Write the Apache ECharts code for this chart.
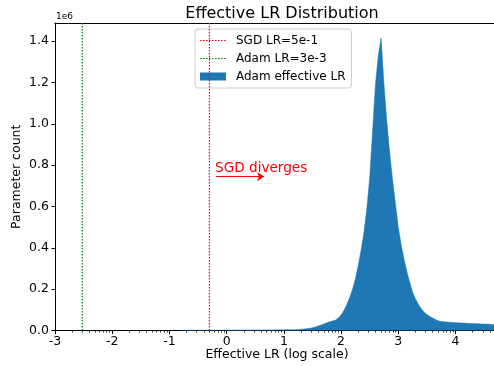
<!DOCTYPE html>
<html>
<head>
<meta charset="utf-8">
<script src="https://cdn.jsdelivr.net/npm/echarts@6/dist/echarts.min.js"></script>
<style>
  html, body { margin: 0; padding: 0; background: #fff; }
  #chart { width: 494px; height: 366px; }
</style>
</head>
<body>
<div id="chart"></div>
<script>
// histogram of log10(effective LR), bins of 0.05 starting at center -0.80
const binStart = -0.80;
const binWidth = 0.05;
const counts = [
  1000, 1000, 1000, 1000, 1200, 1200, 1200, 1300, 1300, 1400,
  1400, 1500, 1500, 1600, 1600, 1700, 1800, 1800, 1900, 2000,
  2000, 2100, 2200, 2300, 2300, 2400, 2500, 2600, 2700, 2800,
  2900, 3000, 3000, 3100, 3200, 3300, 3400, 3500, 3600, 3800,
  4000, 5000, 6000, 7000, 9000, 11000, 13000, 17000, 22000, 27000,
  32000, 37000, 42000, 46000, 50000, 60000, 75000, 97000, 126000, 160000,
  200000, 250000, 315000, 390000, 475000, 590000, 740000, 960000, 1190000, 1330000,
  1416000, 1190000, 1010000, 860000, 730000, 615000, 500000, 415000, 345000, 285000,
  232000, 186000, 153000, 127000, 106000, 90000, 78000, 68000, 60000, 53000,
  47000, 43000, 42000, 41000, 40000, 39000, 38000, 37000, 36000, 36000,
  35000, 34000, 34000, 33000, 33000, 32000, 31000, 31000, 30000, 29000,
  28000, 28000
];
const sgdLr = Math.log10(5e-1);
const adamLr = Math.log10(3e-3);
const xTicks = [-3, -2, -1, 0, 1, 2, 3, 4];
const yTicks = [0, 200000, 400000, 600000, 800000, 1000000, 1200000, 1400000];
const arrowFrom = [-0.185, 745000];
const arrowTo = [0.655, 745000];

const xMin = -3, xMax = 4.76, yMax = 1488000;
const font = 'DejaVu Sans';
const blue = '#1f77b4';

// minor ticks at log spacing inside each unit
const minorTicks = [];
for (let n = -3; n < 5; n++) {
  for (let k = 2; k <= 9; k++) {
    const v = n + Math.log10(k);
    if (v < xMax) minorTicks.push(v);
  }
}

// dotted-line legend icon (26x8 box)
let dotIcon = 'path://M0,0L0,0Z M26,8L26,8Z';
for (let x = 0; x < 26; x += 3) dotIcon += ` M${x},3.4h1.6v1.2h-1.6Z`;

const histData = counts.map((c, i) => [binStart + i * binWidth, c]);

const chart = echarts.init(document.getElementById('chart'));

const option = {
  animation: false,
  textStyle: { fontFamily: font },
  title: {
    text: 'Effective LR Distribution',
    left: 277, top: 1, textAlign: 'center',
    textStyle: { fontFamily: font, fontSize: 16, fontWeight: 'normal', color: '#000' }
  },
  grid: { left: 55, top: 23, right: -5, bottom: 35.5, outerBoundsMode: 'none' },
  legend: {
    data: [
      { name: 'SGD LR=5e-1', icon: dotIcon },
      { name: 'Adam LR=3e-3', icon: dotIcon },
      { name: 'Adam effective LR', icon: 'rect' }
    ],
    orient: 'vertical',
    left: 195, top: 29,
    itemWidth: 26, itemHeight: 8, itemGap: 3,
    symbolKeepAspect: false,
    padding: [4, 6, 4, 5],
    selectedMode: false,
    backgroundColor: 'rgba(255,255,255,0.8)',
    borderColor: '#cccccc', borderWidth: 1, borderRadius: 3,
    textStyle: { fontFamily: font, fontSize: 12, lineHeight: 15, color: '#000', padding: [0, 0, 0, 5] }
  },
  graphic: [
    { type: 'text', left: 56, top: 12, style: { text: '1e6', font: '9px "DejaVu Sans"', fill: '#000' } }
  ],
  xAxis: [
    {
      type: 'value', min: xMin, max: xMax, position: 'bottom',
      name: 'Effective LR (log scale)', nameLocation: 'middle', nameGap: 18,
      nameMoveOverlap: false,
      nameTextStyle: { fontFamily: font, fontSize: 12.5, color: '#000' },
      axisLine: { onZero: false, lineStyle: { color: '#000', width: 1 } },
      axisTick: { customValues: xTicks, length: 3.5, lineStyle: { color: '#000' } },
      axisLabel: { customValues: xTicks, fontFamily: font, fontSize: 12.5, color: '#000', margin: 5 },
      splitLine: { show: false }
    },
    {
      type: 'value', min: xMin, max: xMax, position: 'bottom',
      axisLine: { show: false, onZero: false },
      axisTick: { customValues: minorTicks, length: 2, lineStyle: { color: '#000', width: 0.8 } },
      axisLabel: { show: false },
      splitLine: { show: false }
    },
    {
      type: 'value', min: xMin, max: xMax, position: 'top',
      axisLine: { onZero: false, lineStyle: { color: '#000', width: 1 } },
      axisTick: { show: false }, axisLabel: { show: false }, splitLine: { show: false }
    }
  ],
  yAxis: {
    type: 'value', min: 0, max: yMax, position: 'left',
    name: 'Parameter count', nameLocation: 'middle', nameGap: 32,
    nameMoveOverlap: false,
    nameTextStyle: { fontFamily: font, fontSize: 12.5, color: '#000' },
    axisLine: { show: true, onZero: false, lineStyle: { color: '#000', width: 1 } },
    axisTick: { show: true, customValues: yTicks, length: 3.5, lineStyle: { color: '#000' } },
    axisLabel: {
      customValues: yTicks, fontFamily: font, fontSize: 12.5, color: '#000', margin: 6,
      formatter: v => (v / 1e6).toFixed(1)
    },
    splitLine: { show: false }
  },
  series: [
    {
      name: 'Adam effective LR',
      type: 'line',
      xAxisIndex: 0,
      data: histData,
      symbol: 'none',
      itemStyle: { color: blue },
      lineStyle: { color: blue, width: 0.5 },
      areaStyle: { color: blue, opacity: 1 }
    },
    {
      name: 'SGD LR=5e-1',
      type: 'line',
      xAxisIndex: 0,
      data: [[sgdLr, 0], [sgdLr, yMax]],
      symbol: 'none',
      z: 5,
      itemStyle: { color: '#ff0000' },
      lineStyle: { color: '#ff0000', width: 1.2, type: [1.5, 1.5] },
      markLine: {
        silent: true,
        symbol: ['none', 'arrow'],
        symbolSize: 7,
        lineStyle: { color: '#ff0000', width: 1.2, type: 'solid' },
        label: {
          show: true, formatter: 'SGD diverges', position: 'insideStartTop',
          color: '#ff0000', fontFamily: font, fontSize: 13.6, distance: [-1, 1]
        },
        data: [[{ coord: arrowFrom }, { coord: arrowTo }]]
      }
    },
    {
      name: 'Adam LR=3e-3',
      type: 'line',
      xAxisIndex: 0,
      data: [[adamLr, 0], [adamLr, yMax]],
      symbol: 'none',
      z: 5,
      itemStyle: { color: '#008000' },
      lineStyle: { color: '#008000', width: 1.2, type: [1.5, 1.5] }
    }
  ]
};

chart.setOption(option);
</script>
</body>
</html>
